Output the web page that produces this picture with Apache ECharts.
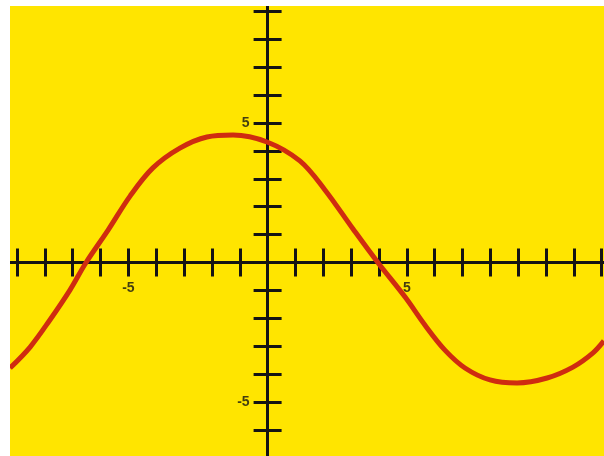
<!DOCTYPE html>
<html>
<head>
<meta charset="utf-8">
<script src="https://cdn.jsdelivr.net/npm/echarts@6/dist/echarts.min.js"></script>
<style>
	body{
		margin: 0;
		background: #ffffff;
	}
	#main{
		position: absolute;
		left: 10px;
		top: 6px;
		width: 594px;
		height: 450px;
	}
</style>
</head>
<body>
<div id="main"></div>
<script>
	// points
	var curveX = [-9.25, -8.53, -7.82, -7.10, -6.52, -5.73, -4.94, -4.12, -3.15, -2.18, -1.24, -0.02, 1.16, 2.06, 3.07, 3.96, 4.94, 5.65, 6.37, 7.09, 7.99, 8.96, 10.04, 10.97, 11.69, 12.08];
	var curveY = [-3.78, -3.03, -2.06, -0.99, 0, 1.16, 2.38, 3.39, 4.10, 4.50, 4.57, 4.32, 3.64, 2.60, 1.20, 0, -1.24, -2.24, -3.14, -3.78, -4.21, -4.32, -4.14, -3.75, -3.24, -2.81];
	// the only numbered ticks
	var xLabelTicks = [-5, 5];
	var yLabelTicks = [-5, 5];

	var curveData = [];
	for(var i = 0; i < curveX.length; i++){
		curveData.push([curveX[i], curveY[i]]);
	}
	var xLabelData = xLabelTicks.map(function(v){ return [v, 0]; });
	var yLabelData = yLabelTicks.map(function(v){ return [0, v]; });

	var ink = '#141414';
	var labelFont = {
		color: ink,
		fontSize: 14,
		fontWeight: 'bold',
		fontFamily: 'Liberation Sans'
	};
	function makeAxis(pos, min, max){
		return {
			type: 'value',
			position: pos,
			min: min,
			max: max,
			interval: 1,
			axisLine: { show: true, onZero: true, onZeroAxisIndex: 0, lineStyle: { color: ink, width: 3 } },
			axisTick: { show: true, length: 14, lineStyle: { color: ink, width: 3 } },
			axisLabel: { show: false },
			splitLine: { show: false }
		};
	}

	var chart = echarts.init(document.getElementById('main'));
	var option = {
		backgroundColor: '#ffe500',
		animation: false,
		grid: {
			left: -20.8,
			right: -25.5,
			top: -22.5,
			bottom: -1.8,
			containLabel: false,
			outerBoundsMode: 'none'
		},
		xAxis: [
			makeAxis('bottom', -10, 13),
			makeAxis('top', -10, 13)
		],
		yAxis: [
			makeAxis('left', -7, 10),
			makeAxis('right', -7, 10)
		],
		series: [{
			type: 'line',
			xAxisIndex: 0,
			yAxisIndex: 0,
			data: curveData,
			smooth: 0.35,
			showSymbol: false,
			clip: false,
			lineStyle: { color: '#cf2c10', width: 5 }
		}, {
			// tick numbers along the x axis
			type: 'scatter',
			data: xLabelData,
			symbolSize: 0,
			silent: true,
			label: Object.assign({
				show: true,
				position: 'bottom',
				distance: 19,
				formatter: function(p){ return String(p.value[0]); }
			}, labelFont)
		}, {
			// tick numbers along the y axis
			type: 'scatter',
			data: yLabelData,
			symbolSize: 0,
			silent: true,
			label: Object.assign({
				show: true,
				position: 'left',
				distance: 18,
				formatter: function(p){ return String(p.value[1]); }
			}, labelFont)
		}]
	};
	chart.setOption(option);
</script>
</body>
</html>
